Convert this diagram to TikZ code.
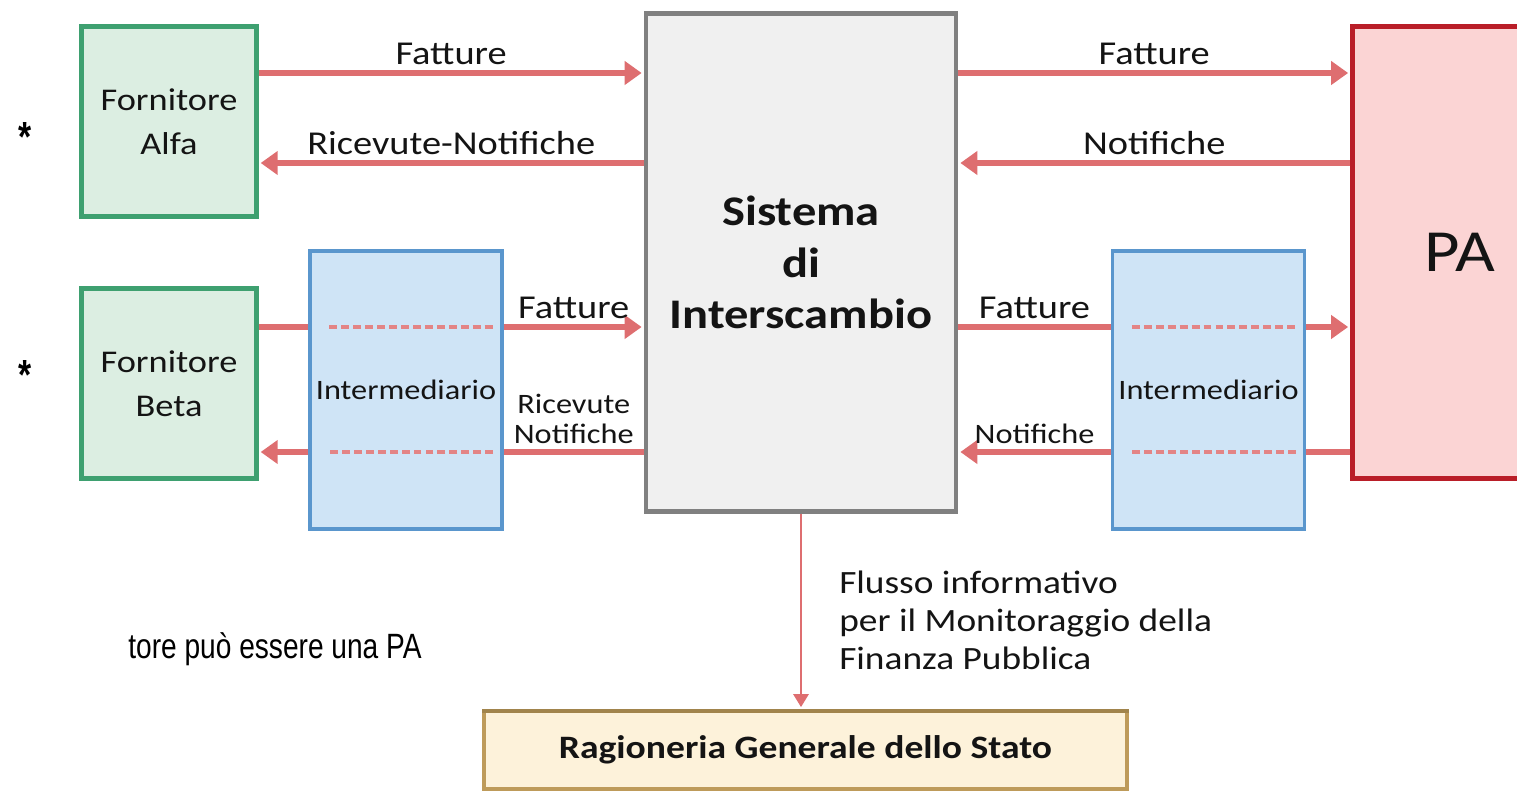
\documentclass[tikz,border=0pt]{standalone}
\usepackage{fontspec}
\setmainfont[FakeStretch=1.15]{Carlito}
\newfontfamily\notefont[FakeStretch=0.8]{Liberation Sans}
\definecolor{fgreen}{RGB}{62,160,112}
\definecolor{fgreenbg}{RGB}{220,238,226}
\definecolor{iblue}{RGB}{90,150,205}
\definecolor{ibluebg}{RGB}{207,228,246}
\definecolor{sgray}{RGB}{128,128,128}
\definecolor{sgraybg}{RGB}{240,240,240}
\definecolor{pared}{RGB}{185,30,40}
\definecolor{parebg}{RGB}{251,212,212}
\definecolor{rtan}{RGB}{190,155,90}
\definecolor{rtanbg}{RGB}{253,242,218}
\definecolor{flowred}{RGB}{222,110,112}
\definecolor{txtgray}{RGB}{20,20,20}
\usetikzlibrary{arrows.meta,positioning}

\begin{document}
\begin{tikzpicture}[
  x=0.02cm, y=-0.02cm,
  every node/.style={font=\fontsize{19}{23}\selectfont, text=txtgray},
  fornbox/.style={draw=fgreen,fill=fgreenbg,line width=2.4pt,minimum width=3.5cm,minimum height=3.8cm,
                  align=center,font=\fontsize{18}{25}\selectfont},
  intbox/.style={draw=iblue,fill=ibluebg,line width=2pt,minimum width=3.8cm,minimum height=5.56cm,
                 font=\fontsize{16}{19}\selectfont},
  sdibox/.style={draw=sgray,fill=sgraybg,line width=2.6pt,minimum width=6.2cm,minimum height=9.96cm,
                 align=center,font=\bfseries\fontsize{24}{29.5}\selectfont},
  pabox/.style={draw=pared,fill=parebg,line width=2.6pt,minimum width=4.3cm,minimum height=9.05cm,
                font=\fontsize{34}{40}\selectfont},
  rgsbox/.style={draw=rtan,fill=rtanbg,line width=2.2pt,minimum width=12.86cm,minimum height=1.56cm,
                 font=\bfseries\fontsize{18.6}{22}\selectfont},
  flowline/.style={draw=flowred,line width=2.9pt},
  flow/.style={flowline,-{Triangle[length=3.4mm,width=4.6mm]},shorten >=1.2pt},
  flowdash/.style={draw=flowred!85,line width=1.8pt,dash pattern=on 4.5pt off 2.3pt},
  flowdown/.style={draw=flowred,line width=1.6pt,-{Triangle[length=2.6mm,width=3mm]},shorten >=1.1pt},
  small/.style={font=\fontsize{16}{17}\selectfont},
  star/.style={anchor=base,font=\notefont\bfseries\fontsize{24}{28}\selectfont,text=black},
]
  \useasboundingbox (0,0) rectangle (1517,793);
  \clip (0,0) rectangle (1517,793);

  % rows of the connectors
  \coordinate (rowA) at (0,73);
  \coordinate (rowB) at (0,163);
  \coordinate (rowC) at (0,327);
  \coordinate (rowD) at (0,452);

  % Boxes
  \node[fornbox] (alfa) at (169,121.5) {Fornitore\\Alfa};
  \node[fornbox] (beta) at (169,383.5) {Fornitore\\Beta};
  \node[intbox] (imL) at (406,390) {Intermediario};
  \node[sdibox] (sdi) at (801,262.5) {Sistema\\di\\Interscambio};
  \node[intbox] (imR) at (1208.5,390) {Intermediario};
  \node[pabox] (pa) at (1460,252.5) {PA};
  \node[rgsbox] (rgs) at (805.5,750) {Ragioneria Generale dello Stato};
  % thicker top edge of the Ragioneria box
  \draw[rtan!85!black,line width=2.2pt] ([yshift=-1.1pt]rgs.north west) -- ([yshift=-1.1pt]rgs.north east);

  % Notes
  \node[star] (astA) at (25,152) {*};
  \node[star] (astB) at (25,390) {*};
  \node[anchor=base west,inner sep=0pt,font=\notefont\fontsize{20}{24}\selectfont,text=black] (nota)
    at (128,658) {tore può essere una PA};

  % Fornitore Alfa <-> SdI
  \draw[flow] (alfa.east |- rowA) -- node[above] {Fatture} (sdi.west |- rowA);
  \draw[flow] (sdi.west |- rowB) -- node[above] {Ricevute-Notifiche} (alfa.east |- rowB);

  % Fornitore Beta <-> Intermediario <-> SdI
  \draw[flowline] (beta.east |- rowC) -- (imL.west |- rowC);
  \draw[flowdash,shorten <=12pt,shorten >=6pt] (imL.west |- rowC) -- (imL.east |- rowC);
  \draw[flow] (imL.east |- rowC) -- node[above] {Fatture} (sdi.west |- rowC);
  \draw[flowline] (sdi.west |- rowD) -- node[above,small,align=center] {Ricevute\\Notifiche} (imL.east |- rowD);
  \draw[flowdash,shorten <=6pt,shorten >=12pt] (imL.east |- rowD) -- (imL.west |- rowD);
  \draw[flow] (imL.west |- rowD) -- (beta.east |- rowD);

  % SdI <-> PA
  \draw[flow] (sdi.east |- rowA) -- node[above] {Fatture} (pa.west |- rowA);
  \draw[flow] (pa.west |- rowB) -- node[above] {Notifiche} (sdi.east |- rowB);

  % SdI <-> Intermediario <-> PA
  \draw[flowline] (sdi.east |- rowC) -- node[above] {Fatture} (imR.west |- rowC);
  \draw[flowdash,shorten <=12pt,shorten >=6pt] (imR.west |- rowC) -- (imR.east |- rowC);
  \draw[flow] (imR.east |- rowC) -- (pa.west |- rowC);
  \draw[flowline] (pa.west |- rowD) -- (imR.east |- rowD);
  \draw[flowdash,shorten <=6pt,shorten >=12pt] (imR.east |- rowD) -- (imR.west |- rowD);
  \draw[flow] (imR.west |- rowD) -- node[above,small] {Notifiche} (sdi.east |- rowD);

  % SdI -> Ragioneria
  \draw[flowdown] (sdi.south) -- node[right=0.62cm,yshift=-5pt,align=left,font=\fontsize{18.5}{21.6}\selectfont]
    {Flusso informativo\\per il Monitoraggio della\\Finanza Pubblica} (sdi.south |- rgs.north);
\end{tikzpicture}
\end{document}
